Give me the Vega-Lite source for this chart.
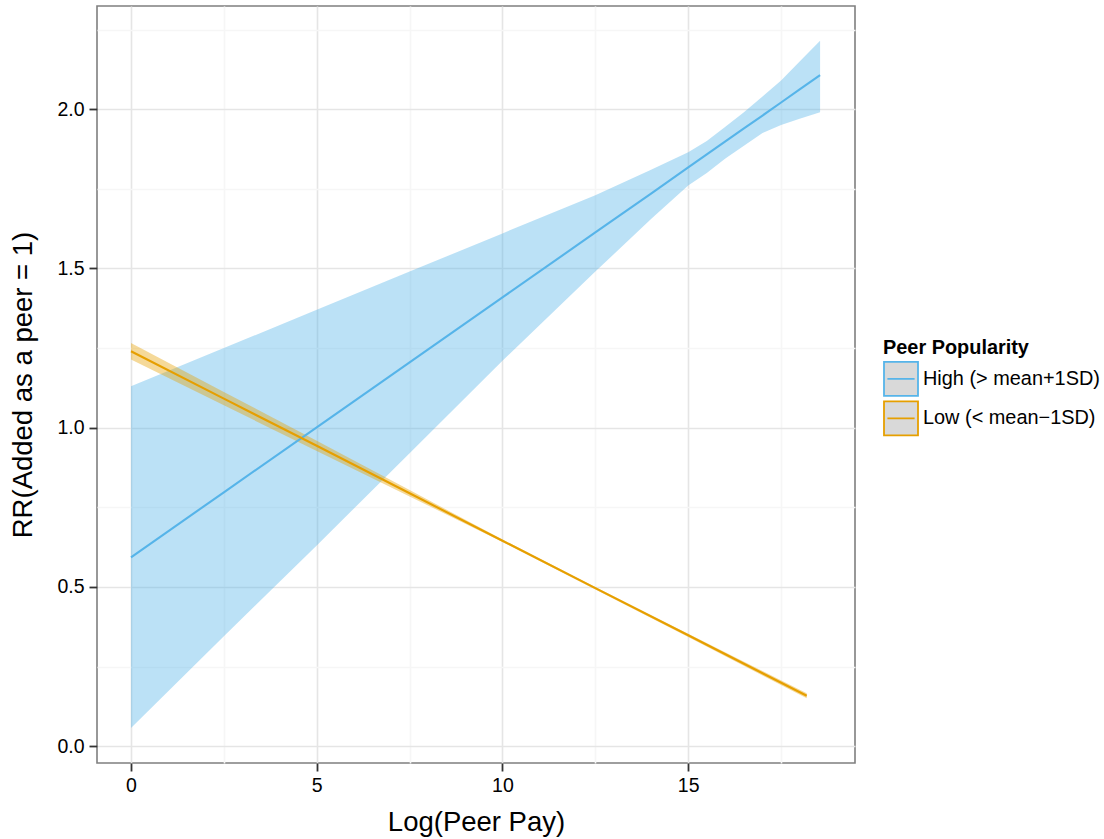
{
  "$schema": "https://vega.github.io/schema/vega-lite/v6.json",
  "autosize": {"type": "none"},
  "padding": {"left": 97, "top": 6, "right": 249, "bottom": 76},
  "width": 758,
  "height": 757,
  "background": "white",
  "config": {
    "font": "Liberation Sans",
    "view": {"stroke": "#7f7f7f", "strokeWidth": 1.6},
    "axis": {
      "domain": false,
      "gridColor": "#e5e5e5",
      "gridWidth": 1.6,
      "tickColor": "#333333",
      "tickWidth": 1.8,
      "tickSize": 8,
      "labelFont": "Liberation Sans",
      "labelFontSize": 19.5,
      "labelColor": "#000000",
      "titleFont": "Liberation Sans",
      "titleFontSize": 27.5,
      "titleFontWeight": "normal",
      "titleColor": "#000000"
    }
  },
  "data": {
    "values": [
      {"grp": "High", "series": "High (> mean+1SD)", "x": 0, "y": 0.593, "lo": 0.057, "hi": 1.13},
      {"grp": "High", "series": "High (> mean+1SD)", "x": 2.5, "y": 0.797, "lo": 0.345, "hi": 1.25},
      {"grp": "High", "series": "High (> mean+1SD)", "x": 5, "y": 1.001, "lo": 0.63, "hi": 1.37},
      {"grp": "High", "series": "High (> mean+1SD)", "x": 7.5, "y": 1.205, "lo": 0.92, "hi": 1.49},
      {"grp": "High", "series": "High (> mean+1SD)", "x": 10, "y": 1.409, "lo": 1.21, "hi": 1.61},
      {"grp": "High", "series": "High (> mean+1SD)", "x": 12.5, "y": 1.613, "lo": 1.49, "hi": 1.73},
      {"grp": "High", "series": "High (> mean+1SD)", "x": 14, "y": 1.735, "lo": 1.655, "hi": 1.81},
      {"grp": "High", "series": "High (> mean+1SD)", "x": 15, "y": 1.817, "lo": 1.76, "hi": 1.865},
      {"grp": "High", "series": "High (> mean+1SD)", "x": 15.5, "y": 1.858, "lo": 1.8, "hi": 1.9},
      {"grp": "High", "series": "High (> mean+1SD)", "x": 16, "y": 1.899, "lo": 1.845, "hi": 1.945},
      {"grp": "High", "series": "High (> mean+1SD)", "x": 16.5, "y": 1.94, "lo": 1.885, "hi": 1.99},
      {"grp": "High", "series": "High (> mean+1SD)", "x": 17, "y": 1.98, "lo": 1.925, "hi": 2.04},
      {"grp": "High", "series": "High (> mean+1SD)", "x": 17.5, "y": 2.021, "lo": 1.95, "hi": 2.09},
      {"grp": "High", "series": "High (> mean+1SD)", "x": 18, "y": 2.062, "lo": 1.97, "hi": 2.15},
      {"grp": "High", "series": "High (> mean+1SD)", "x": 18.55, "y": 2.107, "lo": 1.99, "hi": 2.215},
      {"grp": "Low", "series": "Low (< mean−1SD)", "x": 0, "y": 1.24, "lo": 1.214, "hi": 1.266},
      {"grp": "Low", "series": "Low (< mean−1SD)", "x": 2.5, "y": 1.091, "lo": 1.07, "hi": 1.112},
      {"grp": "Low", "series": "Low (< mean−1SD)", "x": 5, "y": 0.943, "lo": 0.927, "hi": 0.959},
      {"grp": "Low", "series": "Low (< mean−1SD)", "x": 7.5, "y": 0.794, "lo": 0.784, "hi": 0.804},
      {"grp": "Low", "series": "Low (< mean−1SD)", "x": 10, "y": 0.645, "lo": 0.641, "hi": 0.649},
      {"grp": "Low", "series": "Low (< mean−1SD)", "x": 12.5, "y": 0.496, "lo": 0.492, "hi": 0.5},
      {"grp": "Low", "series": "Low (< mean−1SD)", "x": 15, "y": 0.348, "lo": 0.343, "hi": 0.353},
      {"grp": "Low", "series": "Low (< mean−1SD)", "x": 18.19, "y": 0.158, "lo": 0.15, "hi": 0.166}
    ]
  },
  "resolve": {"axis": {"x": "independent", "y": "independent"}},
  "layer": [
    {
      "mark": {"type": "area", "opacity": 0.4},
      "encoding": {
        "x": {
          "field": "x", "type": "quantitative",
          "scale": {"domain": [-0.915, 19.49], "nice": false, "zero": false},
          "axis": {"orient": "bottom", "grid": true, "values": [2.5, 7.5, 12.5, 17.5], "labels": false, "ticks": false, "title": null, "gridColor": "#f6f6f6", "gridWidth": 1.6}
        },
        "y": {
          "field": "hi", "type": "quantitative",
          "scale": {"domain": [-0.053, 2.324], "nice": false, "zero": false},
          "axis": {"orient": "left", "grid": true, "values": [0.25, 0.75, 1.25, 1.75, 2.25], "labels": false, "ticks": false, "title": null, "gridColor": "#f6f6f6", "gridWidth": 1.6}
        },
        "y2": {"field": "lo"},
        "fill": {
          "field": "grp", "type": "nominal",
          "scale": {"domain": ["High", "Low"], "range": ["#56B4E9", "#E69F00"]},
          "legend": null
        },
        "detail": {"field": "series"}
      }
    },
    {
      "mark": {"type": "line", "strokeWidth": 2.1},
      "encoding": {
        "x": {
          "field": "x", "type": "quantitative",
          "axis": {"orient": "bottom", "grid": true, "values": [0, 5, 10, 15], "title": "Log(Peer Pay)", "labelPadding": 5, "titlePadding": 14, "gridColor": "#e5e5e5"}
        },
        "y": {
          "field": "y", "type": "quantitative",
          "axis": {"orient": "left", "grid": true, "values": [0, 0.5, 1, 1.5, 2], "format": ".1f", "title": "RR(Added as a peer = 1)", "labelPadding": 5, "titlePadding": 19, "gridColor": "#e5e5e5"}
        },
        "stroke": {
          "field": "series", "type": "nominal",
          "scale": {"domain": ["High (> mean+1SD)", "Low (< mean−1SD)"], "range": ["#56B4E9", "#E69F00"]},
          "legend": {
            "orient": "none", "legendX": 786, "legendY": 332,
            "title": "Peer Popularity", "titleColor": "#000000", "titleFontSize": 19.9, "titleFontWeight": "bold", "titlePadding": 3,
            "labelColor": "#000000", "labelFontSize": 19.9, "labelOffset": 4, "labelLimit": 400,
            "symbolType": "M-1,-1H1V1H-1Z M-0.8,0H0.8", "symbolSize": 1156, "symbolStrokeWidth": 1.8, "symbolFillColor": "#d9d9d9",
            "rowPadding": -2.5, "padding": 0
          }
        }
      }
    }
  ]
}
